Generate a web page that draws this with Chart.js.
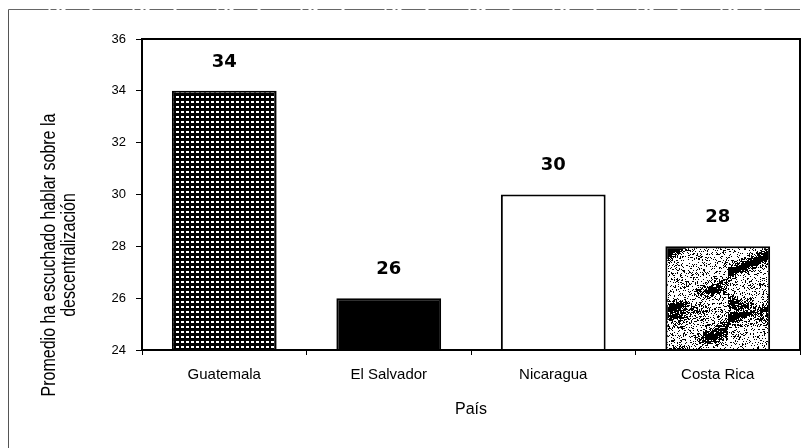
<!DOCTYPE html>
<html>
<head>
<meta charset="utf-8">
<script src="https://cdn.jsdelivr.net/npm/chart.js@4.4.1/dist/chart.umd.min.js"></script>
<style>
html,body{margin:0;padding:0;background:#fff;}
#wrap{position:relative;width:804px;height:448px;}
canvas{display:block;}
</style>
</head>
<body>
<div id="wrap"><canvas id="c" width="804" height="448"></canvas></div>
<script>
const categories = ['Guatemala', 'El Salvador', 'Nicaragua', 'Costa Rica'];
const values = [34, 26, 30, 28];
const yTicks = [24, 26, 28, 30, 32, 34, 36];
const yTitleLines = ['Promedio ha escuchado hablar sobre la', 'descentralización'];
const xTitle = 'País';

// --- fill patterns (style only) ---
function gridPattern() {
  const p = document.createElement('canvas');
  p.width = 5; p.height = 5;
  const g = p.getContext('2d');
  g.fillStyle = '#000'; g.fillRect(0, 0, 5, 5);
  g.fillStyle = '#fff'; g.fillRect(1, 1, 3, 2);
  return g.createPattern(p, 'repeat');
}
function hash(x, y) {
  const h = Math.sin(x * 12.9898 + y * 78.233) * 43758.5453;
  return h - Math.floor(h);
}
function marblePattern() {
  const w = 104, h = 104;
  const p = document.createElement('canvas');
  p.width = w; p.height = h;
  const g = p.getContext('2d');
  const img = g.createImageData(w, h);
  for (let y = 0; y < h; y++) {
    for (let x = 0; x < w; x++) {
      const band = Math.pow(Math.max(0, Math.sin((y + x * 0.45) * 0.11 + 0.8)), 3);
      const band2 = Math.pow(Math.max(0, Math.sin((y * 0.9 - x * 0.2) * 0.07 + 2.0)), 5);
      const cloud = 0.5 + 0.5 * Math.sin(x * 0.08 + Math.sin(y * 0.11) * 2);
      let v = 0.2 + 0.9 * band * cloud + 0.7 * band2 * (1 - cloud);
      const dark = hash(x, y) < v;
      const i = (y * w + x) * 4;
      const c = dark ? 0 : 255;
      img.data[i] = c; img.data[i + 1] = c; img.data[i + 2] = c; img.data[i + 3] = 255;
    }
  }
  g.putImageData(img, 0, 0);
  return g.createPattern(p, 'repeat');
}

const ctx0 = document.getElementById('c').getContext('2d');
const fills = [gridPattern(), '#000000', '#ffffff', marblePattern()];

const decor = {
  id: 'decor',
  beforeDraw(chart) {
    const ctx = chart.ctx;
    ctx.save();
    ctx.fillStyle = '#fff';
    ctx.fillRect(0, 0, chart.width, chart.height);
    // outer frame (left + top)
    ctx.strokeStyle = '#555';
    ctx.lineWidth = 1;
    ctx.beginPath();
    ctx.moveTo(8.5, 448);
    ctx.lineTo(8.5, 9.5);
    ctx.stroke();
    ctx.strokeStyle = '#666';
    ctx.setLineDash([40, 2, 6, 3, 2, 4, 24, 3]);
    ctx.beginPath();
    ctx.moveTo(8.5, 9.5);
    ctx.lineTo(800, 9.5);
    ctx.stroke();
    ctx.restore();
  },
  afterDatasetsDraw(chart) {
    const ctx = chart.ctx;
    const a = chart.chartArea;
    ctx.save();
    // plot box
    ctx.strokeStyle = '#000';
    ctx.lineWidth = 2;
    ctx.strokeRect(a.left, a.top, a.right - a.left, a.bottom - a.top);
    // value labels
    ctx.fillStyle = '#000';
    ctx.font = 'bold 18px "DejaVu Sans"';
    ctx.textAlign = 'center';
    ctx.textBaseline = 'middle';
    const meta = chart.getDatasetMeta(0);
    meta.data.forEach((bar, i) => {
      ctx.fillText(String(values[i]), bar.x, bar.y - 29);
    });
    // y title (two lines, rotated)
    ctx.font = '16px "Liberation Sans", Arial, sans-serif';
    const cy = 255;
    const xs = [50, 70];
    yTitleLines.forEach((t, i) => {
      ctx.save();
      ctx.translate(xs[i], cy);
      ctx.scale(1.22, 1);
      ctx.rotate(-Math.PI / 2);
      ctx.fillText(t, 0, 0);
      ctx.restore();
    });
    // x title
    ctx.font = '16px "Liberation Sans", Arial, sans-serif';
    ctx.fillText(xTitle, (a.left + a.right) / 2, 410);
    ctx.restore();
  }
};

new Chart(ctx0, {
  type: 'bar',
  data: {
    labels: categories,
    datasets: [{
      data: values,
      backgroundColor: fills,
      borderColor: '#000',
      borderWidth: 2,
      borderSkipped: false,
      barPercentage: 0.637,
      categoryPercentage: 1.0
    }]
  },
  options: {
    responsive: false,
    animation: false,
    devicePixelRatio: 1,
    layout: { padding: { left: 0, right: 4, top: 39, bottom: 0 } },
    plugins: { legend: { display: false }, tooltip: { enabled: false } },
    scales: {
      x: {
        afterFit(s) { s.height = 98; },
        border: { display: false },
        grid: { display: true, drawOnChartArea: false, drawTicks: true, tickLength: 5, color: '#000', lineWidth: 1, offset: true },
        ticks: { color: '#000', padding: 11, font: { family: '"Liberation Sans", Arial, sans-serif', size: 15 } }
      },
      y: {
        min: 24,
        max: 36,
        afterFit(s) { s.width = 142; },
        afterBuildTicks(s) { s.ticks = yTicks.map(v => ({ value: v })); },
        border: { display: false },
        grid: { display: true, drawOnChartArea: false, drawTicks: true, tickLength: 6, color: '#000', lineWidth: 1 },
        ticks: { color: '#000', padding: 10, stepSize: 2, font: { family: '"Liberation Sans", Arial, sans-serif', size: 13 } }
      }
    }
  },
  plugins: [decor]
});
</script>
</body>
</html>
